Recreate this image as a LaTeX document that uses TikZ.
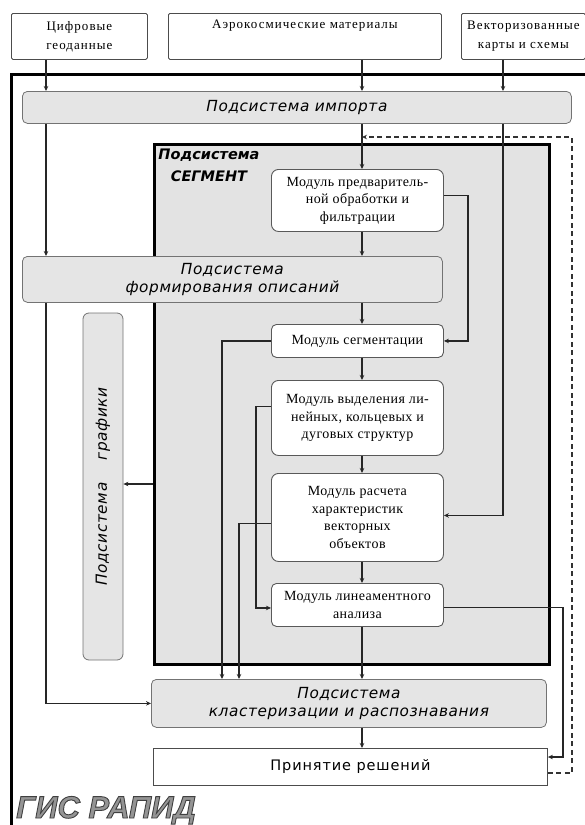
\documentclass[tikz,border=0pt]{standalone}
\usepackage{fontspec}
\setmainfont{Liberation Serif}
\newfontfamily\srcfam{Liberation Serif}[LetterSpace=8]
\newfontfamily\modfam{Liberation Serif}[LetterSpace=3]
\newfontfamily\subfam{DejaVu Sans}[LetterSpace=4]
\newfontfamily\decfam{DejaVu Sans}[LetterSpace=6]
\newfontfamily\lblfam{DejaVu Sans}
\newfontfamily\gisfam{Liberation Sans}
\usetikzlibrary{arrows.meta}
\newcommand\fSrc{\srcfam\fontsize{13}{19}\selectfont}
\newcommand\fMod{\modfam\fontsize{14}{17.5}\selectfont}
\newcommand\fSub{\subfam\itshape\fontsize{15.3}{18}\selectfont}
\newcommand\fDec{\decfam\fontsize{14.5}{18}\selectfont}
\newcommand\fSegLbl{\lblfam\bfseries\itshape\fontsize{14.5}{22}\selectfont}
\newcommand\fGis{\gisfam\bfseries\itshape\fontsize{31}{34}\selectfont}
\tikzset{
  conn/.style={line width=1.1pt, draw=black!85},
  arr/.style={conn, -{Stealth[length=5pt,width=4.5pt]}},
  darr/.style={line width=1.6pt, draw=black!80, dash pattern=on 5pt off 3.5pt, -{Stealth[length=5pt,width=4.5pt]}},
  srcbox/.style={draw=black!70, line width=0.8pt, fill=white, rounded corners=1.5pt, inner sep=0pt, anchor=north west, align=center, font=\fSrc},
  subsys/.style={draw=black!55, line width=0.8pt, fill=black!10, rounded corners=5pt, inner sep=0pt, anchor=north west, align=center, font=\fSub},
  module/.style={draw=black!65, line width=0.9pt, fill=white, rounded corners=7pt, inner sep=0pt, anchor=north west, align=center, font=\fMod},
  segbox/.style={draw=black, line width=3pt, fill=black!11, inner sep=0pt, anchor=north west},
  decbox/.style={draw=black!70, line width=0.9pt, fill=white, inner sep=0pt, anchor=north west, align=center, font=\fDec},
}
\begin{document}
\begin{tikzpicture}[x=1pt,y=-1pt]
\useasboundingbox (0,0) rectangle (585,825);
% outer frame (GIS)
\draw[line width=3pt] (11.5,830) -- (11.5,74) -- (590,74);
% source boxes
\node[srcbox, minimum width=136pt, minimum height=46pt] (b1) at (11,13) {Цифровые\\геоданные};
\node[srcbox, minimum width=273pt, minimum height=46pt] (b2) at (168,13) {Аэрокосмические материалы\\\strut};
\node[srcbox, minimum width=124pt, minimum height=46pt] (b3) at (461,13) {Векторизованные\\карты и схемы};
% import
\node[subsys, minimum width=549pt, minimum height=32pt] (imp) at (22,91) {Подсистема импорта};
% segment subsystem
\node[segbox, minimum width=395pt, minimum height=520pt] (seg) at (153,143) {};
\node[font=\fSegLbl, align=center, anchor=north, inner sep=0pt] (seglbl) at (209,149) {Подсистема\\СЕГМЕНТ};
% formation
\node[subsys, minimum width=420pt, minimum height=46pt] (form) at (22,256) {Подсистема\\формирования описаний};
% graphics
\node[subsys, anchor=center, rotate=90, minimum width=347pt, minimum height=40pt, rounded corners=6pt] (graf) at (103,486.5) {Подсистема\hspace{22pt}графики};
% modules
\node[module, minimum width=172pt, minimum height=62pt] (mod1) at (271,169) {Модуль предваритель-\\ной обработки и\\фильтрации};
\node[module, minimum width=172pt, minimum height=33pt, rounded corners=5pt] (segm) at (271,324) {Модуль сегментации};
\node[module, minimum width=172pt, minimum height=75pt] (mod3) at (271,380) {Модуль выделения ли-\\нейных, кольцевых и\\дуговых структур};
\node[module, minimum width=172pt, minimum height=88pt] (mod4) at (271,473) {Модуль расчета\\характеристик\\векторных\\объектов};
\node[module, minimum width=172pt, minimum height=43pt, rounded corners=5pt] (mod5) at (271,583) {Модуль линеаментного\\анализа};
% clusterization & decisions
\node[subsys, minimum width=395pt, minimum height=48pt] (clus) at (151,679) {Подсистема\\кластеризации и распознавания};
\node[decbox, minimum width=394pt, minimum height=37pt] (dec) at (153,748) {Принятие решений};
% title
\node[anchor=base west, inner sep=0pt, font=\fGis] (gis) at (16,818) {{\color{black!42}\special{pdf:literal direct 2 Tr 0.9 w 0.25 G}ГИС РАПИД\special{pdf:literal direct 0 Tr}}};
% column coordinates
\coordinate (cA) at (46,0);
\coordinate (cM) at (362,0);
\coordinate (cV) at (503,0);
\coordinate (cR) at (468,0);
\coordinate (cL1) at (222,0);
\coordinate (cL2) at (239,0);
\coordinate (cR5) at (563,757);
\coordinate (cD1) at (572,773);
\coordinate (cD2) at (572,137);
% connectors
\draw[arr] (b1.south -| cA) -- (imp.north -| cA);
\draw[arr] (b2.south -| cM) -- (imp.north -| cM);
\draw[arr] (b3.south -| cV) -- (imp.north -| cV);
\draw[arr] (imp.south -| cA) -- (form.north -| cA);
\draw[arr] (imp.south -| cM) -- (mod1.north -| cM);
\draw[arr] (imp.south -| cV) |- ([yshift=2pt]mod4.east);
\draw[arr] (mod1.south -| cM) -- (form.north -| cM);
\draw[arr] (form.south -| cM) -- (segm.north -| cM);
\draw[arr] ([yshift=5pt]mod1.east) -| (segm.east -| cR) -- (segm.east);
\draw[arr] (segm.south -| cM) -- (mod3.north -| cM);
\draw[arr] (mod3.south -| cM) -- (mod4.north -| cM);
\draw[arr] (mod4.south -| cM) -- (mod5.north -| cM);
\draw[arr] (mod5.south -| cM) -- (clus.north -| cM);
\draw[arr] (clus.south -| cM) -- (dec.north -| cM);
\draw[arr] (segm.west) -| (clus.north -| cL1);
\draw[arr] ([yshift=11.5pt]mod3.west) -| ([xshift=-15pt,yshift=-3pt]mod5.west) -- ([yshift=-3pt]mod5.west);
\draw[arr] ([yshift=-6pt]mod4.west) -| (clus.north -| cL2);
\draw[arr] ([yshift=-2.5pt]mod5.east) -| (cR5) -- (dec.east |- cR5);
\draw[arr] (form.south -| cA) |- (clus.west);
\draw[arr] ([yshift=2.5pt]seg.west |- graf.center) -- ([yshift=2.5pt]graf.south);
\draw[darr] (dec.east |- cD1) -- (cD1) -- (cD2) -- (cM |- cD2);
\end{tikzpicture}
\end{document}
